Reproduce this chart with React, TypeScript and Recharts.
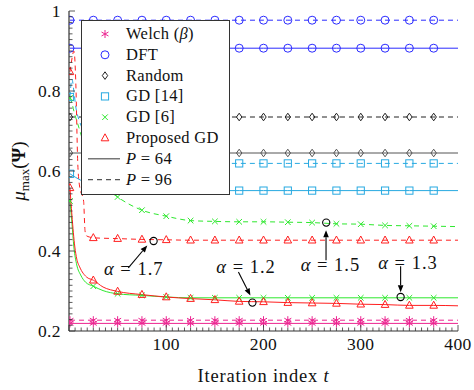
import React from 'react';
import { LineChart, Line, XAxis, YAxis, ReferenceDot, ReferenceLine, Legend } from 'recharts';

const FONT = 'Liberation Serif';
const FRAME = '#333333';

const C_WELCH = '#ec2390';
const C_DFT = '#2b2bff';
const C_RAND96 = '#222222';
const C_RAND64 = '#555555';
const C_GD14 = '#27a9e1';
const C_GD6 = '#2ee82e';
const C_PROP = '#ff1f1f';

// iterations carrying a marker
const MARK_T = [1, 25, 50, 75, 100, 125, 150, 175, 200, 225, 250, 275, 300, 325, 350, 375];

// flat series sample points
const T_FLAT = [1, 25, 50, 75, 100, 125, 150, 175, 200, 225, 250, 275, 300, 325, 350, 375, 400];
const WELCH_64 = [0.219, 0.219, 0.219, 0.219, 0.219, 0.219, 0.219, 0.219, 0.219, 0.219, 0.219, 0.219, 0.219, 0.219, 0.219, 0.219, 0.219];
const WELCH_96 = [0.227, 0.227, 0.227, 0.227, 0.227, 0.227, 0.227, 0.227, 0.227, 0.227, 0.227, 0.227, 0.227, 0.227, 0.227, 0.227, 0.227];
const DFT_64 = [0.907, 0.907, 0.907, 0.907, 0.907, 0.907, 0.907, 0.907, 0.907, 0.907, 0.907, 0.907, 0.907, 0.907, 0.907, 0.907, 0.907];
const DFT_96 = [0.977, 0.977, 0.977, 0.977, 0.977, 0.977, 0.977, 0.977, 0.977, 0.977, 0.977, 0.977, 0.977, 0.977, 0.977, 0.977, 0.977];
const RANDOM_64 = [0.645, 0.645, 0.645, 0.645, 0.645, 0.645, 0.645, 0.645, 0.645, 0.645, 0.645, 0.645, 0.645, 0.645, 0.645, 0.645, 0.645];
const RANDOM_96 = [0.735, 0.735, 0.735, 0.735, 0.735, 0.735, 0.735, 0.735, 0.735, 0.735, 0.735, 0.735, 0.735, 0.735, 0.735, 0.735, 0.735];

// GD [14]
const T_GD14_64 = [1, 12, 25, 50, 75, 100, 125, 150, 175, 200, 225, 250, 275, 300, 325, 350, 375, 400];
const GD14_64 = [0.593, 0.577, 0.565, 0.556, 0.553, 0.552, 0.551, 0.551, 0.551, 0.551, 0.551, 0.551, 0.551, 0.551, 0.551, 0.551, 0.551, 0.551];
const T_GD14_96 = [1, 3, 5, 7, 10, 13, 20, 30, 50, 75, 100, 125, 150, 175, 200, 225, 250, 275, 300, 325, 350, 375, 400];
const GD14_96 = [0.785, 0.83, 0.8, 0.76, 0.73, 0.71, 0.67, 0.645, 0.628, 0.622, 0.62, 0.619, 0.619, 0.619, 0.619, 0.619, 0.619, 0.619, 0.619, 0.619, 0.619, 0.619, 0.619];

// GD [6]
const T_GD6_64 = [1, 3, 5, 8, 12, 17, 25, 35, 50, 75, 100, 125, 150, 175, 200, 225, 250, 275, 300, 325, 350, 375, 400];
const GD6_64 = [0.525, 0.47, 0.41, 0.365, 0.34, 0.322, 0.312, 0.301, 0.293, 0.289, 0.285, 0.283, 0.283, 0.283, 0.283, 0.283, 0.283, 0.283, 0.283, 0.283, 0.283, 0.283, 0.283];
const T_GD6_96 = [1, 3, 5, 10, 15, 25, 35, 50, 75, 100, 125, 150, 175, 200, 225, 250, 275, 300, 325, 350, 375, 400];
const GD6_96 = [0.783, 0.77, 0.75, 0.71, 0.67, 0.6, 0.565, 0.535, 0.502, 0.487, 0.476, 0.474, 0.473, 0.473, 0.472, 0.471, 0.468, 0.467, 0.464, 0.463, 0.462, 0.461];

// Proposed GD
const T_PROP_64 = [1, 3, 6, 8, 11, 18, 25, 35, 50, 75, 100, 125, 150, 175, 200, 225, 250, 275, 300, 325, 350, 375, 400];
const PROP_64 = [0.558, 0.49, 0.41, 0.38, 0.36, 0.335, 0.327, 0.31, 0.299, 0.291, 0.285, 0.281, 0.278, 0.274, 0.273, 0.271, 0.27, 0.269, 0.267, 0.266, 0.264, 0.264, 0.263];
const T_PROP_96 = [1, 3, 5, 6, 7, 9, 11, 15, 16.5, 18, 21, 25, 50, 75, 100, 125, 150, 175, 200, 225, 250, 275, 300, 325, 350, 375, 400];
const PROP_96 = [0.848, 0.88, 0.9, 0.88, 0.82, 0.62, 0.56, 0.525, 0.45, 0.438, 0.435, 0.433, 0.431, 0.429, 0.428, 0.427, 0.427, 0.427, 0.427, 0.427, 0.427, 0.427, 0.427, 0.427, 0.427, 0.427, 0.427];

// axis ticks
const X_LABELS = [100, 200, 300, 400];
const X_MAJOR = [0, 100, 200, 300, 400];
const X_TICKS = Array.from({ length: 65 }, (_, k) => k * 6.25);
const Y_LABELS = [0.2, 0.4, 0.6, 0.8, 1];
const Y_TICKS = Array.from({ length: 57 }, (_, k) => 0.2 + (k * 0.2) / 14);

// annotations: alpha value, marked point, arrow tail/tip, label anchor
const ANN_ALPHA = ['1.7', '1.2', '1.5', '1.3'];
const ANN_POINT = [[87, 0.425], [188.6, 0.271], [264.5, 0.471], [341, 0.285]];
const ANN_TAIL = [[61, 0.358], [174.2, 0.3475], [264.3, 0.377], [341, 0.362]];
const ANN_TIP = [[80.5, 0.414], [186.5, 0.289], [264.3, 0.452], [341, 0.297]];
const ANN_LABEL = [[66.6, 0.339], [182.1, 0.344], [268.8, 0.35], [348.6, 0.356]];

const rows = (ts: number[], vs: number[]) => ts.map((t, i) => ({ t, v: vs[i] }));

type Shape = 'star' | 'circle' | 'diamond' | 'square' | 'x' | 'triangle';

const Marker = ({ shape, x, y, color }: { shape: Shape; x: number; y: number; color: string }) => {
  const sw = 1;
  switch (shape) {
    case 'circle':
      return <circle cx={x} cy={y} r={4} fill="none" stroke={color} strokeWidth={sw} />;
    case 'square':
      return <rect x={x - 3.6} y={y - 3.6} width={7.2} height={7.2} fill="none" stroke={color} strokeWidth={sw} />;
    case 'diamond':
      return <polygon points={`${x},${y - 3.8} ${x + 2.7},${y} ${x},${y + 3.8} ${x - 2.7},${y}`} fill="none" stroke={color} strokeWidth={sw} />;
    case 'triangle':
      return <polygon points={`${x},${y - 4.2} ${x + 3.8},${y + 2.8} ${x - 3.8},${y + 2.8}`} fill="none" stroke={color} strokeWidth={sw} />;
    case 'x':
      return (
        <g stroke={color} strokeWidth={sw}>
          <line x1={x - 2.8} y1={y - 2.8} x2={x + 2.8} y2={y + 2.8} />
          <line x1={x - 2.8} y1={y + 2.8} x2={x + 2.8} y2={y - 2.8} />
        </g>
      );
    case 'star':
    default:
      return (
        <g stroke={color} strokeWidth={sw}>
          <line x1={x} y1={y - 4} x2={x} y2={y + 4} />
          <line x1={x - 3.5} y1={y - 2} x2={x + 3.5} y2={y + 2} />
          <line x1={x - 3.5} y1={y + 2} x2={x + 3.5} y2={y - 2} />
        </g>
      );
  }
};

const makeDot = (shape: Shape, color: string) => (props: any) => {
  const { cx, cy, payload, index } = props;
  if (!payload || !MARK_T.includes(payload.t) || cx == null || cy == null) return <g key={`d${index}`} />;
  return (
    <g key={`d${index}`}>
      <Marker shape={shape} x={cx} y={cy} color={color} />
    </g>
  );
};

const SERIES: { name: string; t: number[]; v: number[]; color: string; shape: Shape; dash?: string }[] = [
  { name: 'welch64', t: T_FLAT, v: WELCH_64, color: C_WELCH, shape: 'star' },
  { name: 'welch96', t: T_FLAT, v: WELCH_96, color: C_WELCH, shape: 'star', dash: '5 4' },
  { name: 'dft64', t: T_FLAT, v: DFT_64, color: C_DFT, shape: 'circle' },
  { name: 'dft96', t: T_FLAT, v: DFT_96, color: C_DFT, shape: 'circle', dash: '5 4' },
  { name: 'rand64', t: T_FLAT, v: RANDOM_64, color: C_RAND64, shape: 'diamond' },
  { name: 'rand96', t: T_FLAT, v: RANDOM_96, color: C_RAND96, shape: 'diamond', dash: '5 4' },
  { name: 'gd14_64', t: T_GD14_64, v: GD14_64, color: C_GD14, shape: 'square' },
  { name: 'gd14_96', t: T_GD14_96, v: GD14_96, color: C_GD14, shape: 'square', dash: '5 4' },
  { name: 'gd6_64', t: T_GD6_64, v: GD6_64, color: C_GD6, shape: 'x' },
  { name: 'gd6_96', t: T_GD6_96, v: GD6_96, color: C_GD6, shape: 'x', dash: '5 4' },
  { name: 'prop64', t: T_PROP_64, v: PROP_64, color: C_PROP, shape: 'triangle' },
  { name: 'prop96', t: T_PROP_96, v: PROP_96, color: C_PROP, shape: 'triangle', dash: '5 4' },
];

const near = (a: number, list: number[]) => list.some((b) => Math.abs(a - b) < 1e-6);

const XTickBottom = (props: any) => {
  const { x, y, payload } = props;
  const v = payload.value;
  const major = near(v, X_MAJOR);
  return (
    <g>
      <line x1={x} x2={x} y1={y} y2={y - (major ? 6 : 3.5)} stroke={FRAME} strokeWidth={0.8} />
      {near(v, X_LABELS) && (
        <text x={x} y={y + 19} textAnchor="middle" fontFamily={FONT} fontSize={17.5} letterSpacing={0.4} fill="#111">
          {Math.round(v)}
        </text>
      )}
    </g>
  );
};

const XTickTop = (props: any) => {
  const { x, y, payload } = props;
  const major = near(payload.value, X_MAJOR);
  return <line x1={x} x2={x} y1={y} y2={y + (major ? 6 : 3.5)} stroke={FRAME} strokeWidth={0.8} />;
};

const YTickLeft = (props: any) => {
  const { x, y, payload } = props;
  const v = payload.value;
  const major = near(v, Y_LABELS);
  return (
    <g>
      <line x1={x} x2={x + (major ? 6 : 3.5)} y1={y} y2={y} stroke={FRAME} strokeWidth={0.8} />
      {major && (
        <text x={x - 8} y={y} dy="0.36em" textAnchor="end" fontFamily={FONT} fontSize={17.5} letterSpacing={0.4} fill="#111">
          {Math.abs(v - 1) < 1e-6 ? '1' : v.toFixed(1)}
        </text>
      )}
    </g>
  );
};

const YTickRight = (props: any) => {
  const { x, y, payload } = props;
  const major = near(payload.value, Y_LABELS);
  return <line x1={x} x2={x - (major ? 6 : 3.5)} y1={y} y2={y} stroke={FRAME} strokeWidth={0.8} />;
};

const Arrow = (props: any) => {
  const { x1, y1, x2, y2 } = props;
  const dx = x2 - x1;
  const dy = y2 - y1;
  const len = Math.sqrt(dx * dx + dy * dy) || 1;
  const ux = dx / len;
  const uy = dy / len;
  const hl = 7;
  const hw = 2.8;
  const bx = x2 - ux * hl;
  const by = y2 - uy * hl;
  return (
    <g>
      <line x1={x1} y1={y1} x2={bx} y2={by} stroke="#000" strokeWidth={1.1} />
      <polygon
        points={`${x2},${y2} ${bx - uy * hw},${by + ux * hw} ${bx + uy * hw},${by - ux * hw}`}
        fill="#000"
      />
    </g>
  );
};

const LEGEND_ROWS: { shape?: Shape; color: string; dash?: string; label: React.ReactNode }[] = [
  { shape: 'star', color: C_WELCH, label: <>Welch (<tspan fontStyle="italic">β</tspan>)</> },
  { shape: 'circle', color: C_DFT, label: 'DFT' },
  { shape: 'diamond', color: C_RAND96, label: 'Random' },
  { shape: 'square', color: C_GD14, label: 'GD [14]' },
  { shape: 'x', color: C_GD6, label: 'GD [6]' },
  { shape: 'triangle', color: C_PROP, label: 'Proposed GD' },
  { color: '#555', label: <><tspan fontStyle="italic">P</tspan> = 64</> },
  { color: '#555', dash: '5 4', label: <><tspan fontStyle="italic">P</tspan> = 96</> },
];

const LegendBox = () => (
  <svg width={149} height={175} style={{ display: 'block' }}>
    <rect x={0.5} y={0.5} width={148} height={174} fill="#fff" stroke={FRAME} strokeWidth={1} />
    {LEGEND_ROWS.map((r, i) => {
      const cy = 14 + i * 20.8;
      return (
        <g key={i}>
          {r.shape ? (
            <Marker shape={r.shape} x={24} y={cy} color={r.color} />
          ) : (
            <line x1={7} x2={39} y1={cy} y2={cy} stroke={r.color} strokeWidth={1.2} strokeDasharray={r.dash} />
          )}
          <text x={45} y={cy + 5} fontFamily={FONT} fontSize={16.5} letterSpacing={0.3} fill="#111">
            {r.label}
          </text>
        </g>
      );
    })}
  </svg>
);

const YLabel = () => (
  <text
    x={25}
    y={171}
    transform="rotate(-90, 25, 171)"
    textAnchor="middle"
    fontFamily={FONT}
    fontSize={19}
    fill="#111"
  >
    <tspan fontStyle="italic">μ</tspan>
    <tspan fontSize={13} dy={4}>max</tspan>
    <tspan dy={-4}>(</tspan>
    <tspan fontWeight="bold">Ψ</tspan>
    <tspan>)</tspan>
  </text>
);

const XLabel = (props: any) => {
  const vb = props.viewBox || { x: 69, y: 331, width: 389 };
  return (
    <text x={vb.x + vb.width / 2} y={382} textAnchor="middle" fontFamily={FONT} fontSize={18.5} letterSpacing={0.8} fill="#111">
      Iteration index <tspan fontStyle="italic">t</tspan>
    </text>
  );
};

export default function App() {
  return (
    <div style={{ width: 474, height: 390, position: 'absolute', left: 0, top: 0 }}>
      <LineChart width={474} height={390} margin={{ top: 11, right: 16, left: 0, bottom: 0 }}>
        <XAxis
          xAxisId="b"
          dataKey="t"
          type="number"
          domain={[0, 400]}
          allowDataOverflow
          ticks={X_TICKS}
          interval={0}
          tick={<XTickBottom />}
          tickLine={false}
          tickSize={0}
          tickMargin={0}
          height={59}
          axisLine={{ stroke: FRAME, strokeWidth: 1.2 }}
          label={{ content: <XLabel /> }}
        />
        <XAxis
          xAxisId="t"
          orientation="top"
          dataKey="t"
          type="number"
          domain={[0, 400]}
          allowDataOverflow
          ticks={X_TICKS}
          interval={0}
          tick={<XTickTop />}
          tickLine={false}
          tickSize={0}
          tickMargin={0}
          height={0}
          axisLine={{ stroke: FRAME, strokeWidth: 1.2 }}
        />
        <YAxis
          yAxisId="l"
          type="number"
          domain={[0.2, 1]}
          allowDataOverflow
          ticks={Y_TICKS}
          interval={0}
          tick={<YTickLeft />}
          tickLine={false}
          tickSize={0}
          tickMargin={0}
          width={69}
          axisLine={{ stroke: FRAME, strokeWidth: 1.2 }}
          label={{ content: <YLabel /> }}
        />
        <YAxis
          yAxisId="r"
          orientation="right"
          type="number"
          domain={[0.2, 1]}
          allowDataOverflow
          ticks={Y_TICKS}
          interval={0}
          tick={<YTickRight />}
          tickLine={false}
          tickSize={0}
          tickMargin={0}
          width={0}
          axisLine={{ stroke: FRAME, strokeWidth: 1.2 }}
        />
        {SERIES.map((s) => (
          <Line
            key={s.name}
            xAxisId="b"
            yAxisId="l"
            data={rows(s.t, s.v)}
            dataKey="v"
            type="monotone"
            stroke={s.color}
            strokeWidth={1}
            strokeDasharray={s.dash}
            dot={makeDot(s.shape, s.color)}
            activeDot={false}
            isAnimationActive={false}
          />
        ))}
        {ANN_ALPHA.map((a, i) => (
          <ReferenceLine
            key={`ar${i}`}
            xAxisId="b"
            yAxisId="l"
            segment={[
              { x: ANN_TAIL[i][0], y: ANN_TAIL[i][1] },
              { x: ANN_TIP[i][0], y: ANN_TIP[i][1] },
            ]}
            shape={(p: any) => <Arrow {...p} />}
          />
        ))}
        {ANN_ALPHA.map((a, i) => (
          <ReferenceDot
            key={`pt${i}`}
            xAxisId="b"
            yAxisId="l"
            x={ANN_POINT[i][0]}
            y={ANN_POINT[i][1]}
            r={3.6}
            fill="none"
            stroke="#000"
            strokeWidth={1.1}
          />
        ))}
        {ANN_ALPHA.map((a, i) => (
          <ReferenceDot
            key={`lb${i}`}
            xAxisId="b"
            yAxisId="l"
            x={ANN_LABEL[i][0]}
            y={ANN_LABEL[i][1]}
            r={0}
            shape={(p: any) => (
              <text x={p.cx} y={p.cy} textAnchor="middle" fontFamily={FONT} fontSize={18.5} letterSpacing={1} fill="#111">
                <tspan fontStyle="italic">α</tspan> = {a}
              </text>
            )}
          />
        ))}
        <Legend
          layout="horizontal"
          verticalAlign="middle"
          align="center"
          wrapperStyle={{ left: 81, top: 20, width: 149, height: 175 }}
          content={() => <LegendBox />}
        />
      </LineChart>
    </div>
  );
}
